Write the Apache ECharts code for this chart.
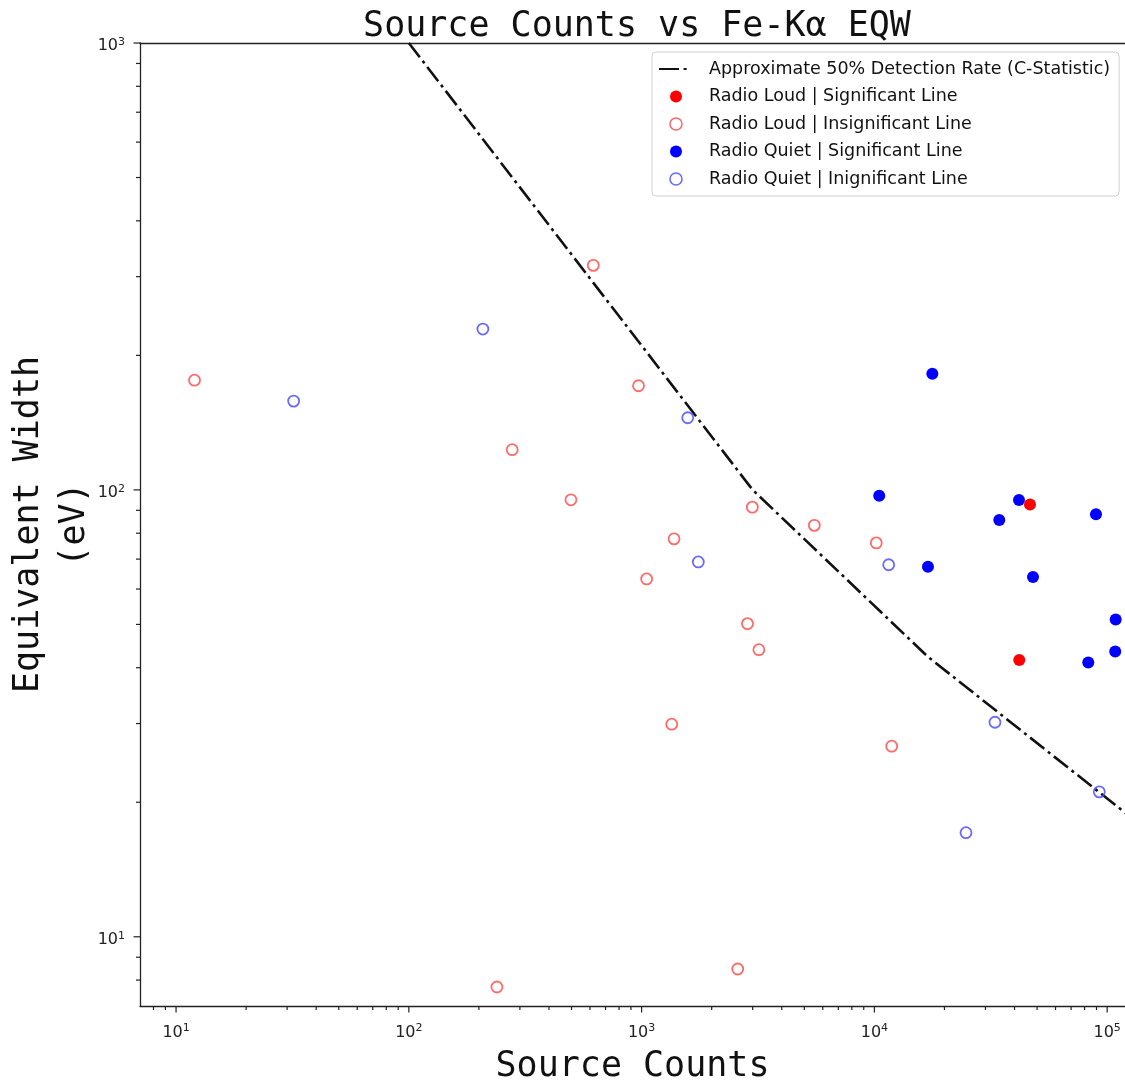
<!DOCTYPE html>
<html>
<head>
<meta charset="utf-8">
<script src="https://cdn.jsdelivr.net/npm/echarts@6/dist/echarts.min.js"></script>
<style>
  html, body { margin: 0; padding: 0; background: #fff; }
  #chart { width: 1125px; height: 1083px; }
</style>
</head>
<body>
<div id="chart"></div>
<script>
// Each point: [source counts, Fe-Kα equivalent width in eV]
const radioLoudSignificant = [[46600, 92.8], [41920, 41.6]];
const radioLoudInsignificant = [
  [12, 176], [620, 318], [970, 171], [278, 123], [497, 95], [2990, 91.5],
  [5520, 83.3], [10190, 76.1], [1378, 77.7], [1051, 63.2], [2850, 50.2],
  [3190, 43.9], [1347, 29.9], [11870, 26.7], [239, 7.72], [2587, 8.47]
];
const radioQuietSignificant = [
  [17740, 182], [10490, 97], [41800, 94.9], [34400, 85.6], [89530, 88.2],
  [16990, 67.3], [48010, 63.8], [108800, 51.3], [108300, 43.5], [82950, 41.1]
];
const radioQuietInsignificant = [
  [32, 158], [208, 229], [1578, 145], [1752, 69], [11520, 68],
  [32960, 30.2], [92500, 21.1], [24750, 17.1]
];

// Approximate 50% detection threshold from C-statistic simulations
const detectionCounts = [100, 3000, 17000, 130000];
const detectionEqw = [1000, 100, 42.3, 18.3];

// Axis limits and decade tick values
const xRange = [7, 119300];
const yRange = [7, 1000];
const decadeTicks = [10, 100, 1000, 10000, 100000];
const minorSteps = [2, 3, 4, 5, 6, 7, 8, 9];

const LINE_NAME = 'Approximate 50% Detection Rate (C-Statistic)';
const RL_SIG = 'Radio Loud | Significant Line';
const RL_INS = 'Radio Loud | Insignificant Line';
const RQ_SIG = 'Radio Quiet | Significant Line';
const RQ_INS = 'Radio Quiet | Inignificant Line';

const RED = '#ff0000', BLUE = '#0000ff';
const RED_OPEN = '#ff4545', BLUE_OPEN = '#4545ff';
const AXIS_COLOR = '#222';
const MONO = '"DejaVu Sans Mono", monospace';
const SANS = '"DejaVu Sans", sans-serif';

function minorTicks(range) {
  const out = [];
  [1, 10, 100, 1000, 10000, 100000].forEach(d => {
    minorSteps.forEach(s => {
      const v = s * d;
      if (v > range[0] && v < range[1]) out.push(v);
    });
  });
  return out;
}

// Outward tick marks drawn through the axis scales
function tickSeries(values, dir, len) {
  return {
    type: 'custom',
    silent: true,
    clip: false,
    z: 6,
    data: values.map(v => dir === 'x' ? [v, yRange[0]] : [xRange[0], v]),
    encode: { x: 0, y: 1 },
    renderItem: (params, api) => {
      const p = api.coord([api.value(0), api.value(1)]);
      const shape = dir === 'x'
        ? { x1: p[0], y1: p[1], x2: p[0], y2: p[1] + len }
        : { x1: p[0] - len, y1: p[1], x2: p[0], y2: p[1] };
      return { type: 'line', shape: shape, style: { stroke: AXIS_COLOR, lineWidth: 1.2 } };
    }
  };
}

function decadeLabel(v) {
  const lg = Math.log10(v);
  const e = Math.round(lg);
  return Math.abs(lg - e) < 1e-6 ? '{n|10}{e|' + e + '}' : '';
}

const labelRich = {
  n: { fontFamily: SANS, fontSize: 16, lineHeight: 19, color: '#222' },
  e: { fontFamily: SANS, fontSize: 11, lineHeight: 10, verticalAlign: 'top', color: '#222' }
};

const chart = echarts.init(document.getElementById('chart'), null, { renderer: 'canvas' });

chart.setOption({
  animation: false,
  backgroundColor: '#fff',
  title: {
    text: 'Source Counts vs Fe-Kα EQW',
    left: 632,
    top: 2,
    textAlign: 'center',
    textStyle: { fontFamily: MONO, fontSize: 35, fontWeight: 'normal', color: '#111', lineHeight: 40 }
  },
  grid: { left: 140, right: 0, top: 43, bottom: 77, containLabel: false, outerBoundsMode: 'none' },
  legend: {
    orient: 'vertical',
    left: 652,
    top: 52,
    padding: [8, 9, 8, 6],
    itemWidth: 34,
    itemHeight: 12,
    itemGap: 9.5,
    selectedMode: false,
    backgroundColor: 'rgba(255,255,255,0.8)',
    borderColor: '#d0d0d0',
    borderWidth: 1,
    borderRadius: 4,
    textStyle: { fontFamily: SANS, fontSize: 17.5, color: '#111', padding: [0, 0, 0, 11] },
    data: [
      { name: LINE_NAME, itemStyle: { color: 'rgba(0,0,0,0)', borderWidth: 0, opacity: 0 }, lineStyle: { type: [20, 4.6, 3, 20] } },
      { name: RL_SIG, icon: 'circle', itemStyle: { color: RED, borderWidth: 0 } },
      { name: RL_INS, icon: 'circle', itemStyle: { color: '#fff', borderColor: RED_OPEN, borderWidth: 1.6 } },
      { name: RQ_SIG, icon: 'circle', itemStyle: { color: BLUE, borderWidth: 0 } },
      { name: RQ_INS, icon: 'circle', itemStyle: { color: '#fff', borderColor: BLUE_OPEN, borderWidth: 1.6 } }
    ]
  },
  xAxis: [
    {
      type: 'log',
      min: xRange[0],
      max: xRange[1],
      position: 'bottom',
      name: 'Source Counts',
      nameLocation: 'middle',
      nameGap: 41,
      nameMoveOverlap: false,
      nameTextStyle: { fontFamily: MONO, fontSize: 35, color: '#111', lineHeight: 40 },
      axisLine: { show: true, lineStyle: { color: AXIS_COLOR, width: 1.3 } },
      axisTick: { show: false },
      splitLine: { show: false },
      axisLabel: { margin: 17, formatter: decadeLabel, rich: labelRich, showMinLabel: true, showMaxLabel: true }
    },
    {
      type: 'log',
      min: xRange[0],
      max: xRange[1],
      position: 'top',
      axisLine: { show: true, lineStyle: { color: AXIS_COLOR, width: 1.3 } },
      axisTick: { show: false },
      axisLabel: { show: false },
      splitLine: { show: false }
    }
  ],
  yAxis: {
    type: 'log',
    min: yRange[0],
    max: yRange[1],
    name: 'Equivalent Width\n(eV)',
    nameLocation: 'middle',
    nameGap: 42,
    nameMoveOverlap: false,
    nameRotate: 90,
    nameTextStyle: { fontFamily: MONO, fontSize: 35, color: '#111', lineHeight: 46, align: 'center' },
    axisLine: { show: true, lineStyle: { color: AXIS_COLOR, width: 1.3 } },
    axisTick: { show: false },
    splitLine: { show: false },
    axisLabel: { margin: 15, padding: [6, 0, 0, 0], formatter: decadeLabel, rich: labelRich }
  },
  series: [
    {
      name: LINE_NAME,
      type: 'line',
      data: detectionCounts.map((c, i) => [c, detectionEqw[i]]),
      symbol: 'none',
      showSymbol: false,
      silent: true,
      clip: true,
      z: 2,
      itemStyle: { color: '#111' },
      lineStyle: { color: '#111', width: 2.6, type: [18, 4.6, 3, 4.6], cap: 'butt' }
    },
    {
      name: RQ_SIG,
      type: 'scatter',
      data: radioQuietSignificant,
      symbol: 'circle',
      symbolSize: 12,
      z: 3,
      itemStyle: { color: BLUE, opacity: 1 }
    },
    {
      name: RQ_INS,
      type: 'scatter',
      data: radioQuietInsignificant,
      symbol: 'circle',
      symbolSize: 11,
      z: 3,
      itemStyle: { color: 'rgba(0,0,0,0)', borderColor: BLUE_OPEN, borderWidth: 1.8 }
    },
    {
      name: RL_SIG,
      type: 'scatter',
      data: radioLoudSignificant,
      symbol: 'circle',
      symbolSize: 12,
      z: 4,
      itemStyle: { color: RED, opacity: 1 }
    },
    {
      name: RL_INS,
      type: 'scatter',
      data: radioLoudInsignificant,
      symbol: 'circle',
      symbolSize: 11,
      z: 4,
      itemStyle: { color: 'rgba(0,0,0,0)', borderColor: RED_OPEN, borderWidth: 1.8 }
    },
    tickSeries(decadeTicks, 'x', 6.5),
    tickSeries(minorTicks(xRange), 'x', 4),
    tickSeries(decadeTicks.filter(v => v <= yRange[1]), 'y', 6.5),
    tickSeries(minorTicks(yRange), 'y', 4)
  ]
});
</script>
</body>
</html>
